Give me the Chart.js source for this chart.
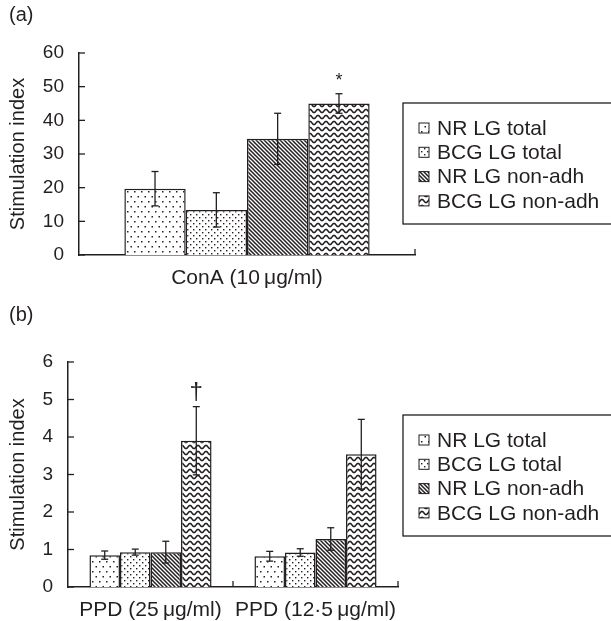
<!DOCTYPE html>
<html>
<head>
<meta charset="utf-8">
<script src="https://cdn.jsdelivr.net/npm/chart.js@4.4.1/dist/chart.umd.min.js"></script>
<style>
  html, body { margin: 0; padding: 0; background: #fff; }
  #wrap { position: relative; width: 611px; height: 621px; overflow: hidden; }
  .panel { position: absolute; left: 0; width: 611px; }
  #panelA { top: 0; height: 300px; }
  #panelB { top: 300px; height: 321px; }
</style>
</head>
<body>
<div id="wrap">
  <div class="panel" id="panelA"><canvas id="chartA"></canvas></div>
  <div class="panel" id="panelB"><canvas id="chartB"></canvas></div>
</div>
<script>
// series (same four groups in both panels)
const seriesLabels = ['NR LG total', 'BCG LG total', 'NR LG non-adh', 'BCG LG non-adh'];

// (a) ConA, one value per series
const conaLabels = ['ConA (10\u2009\u03bcg/ml)'];
const conaMeans = [19.7, 13.4, 34.5, 45.0];
const conaErrors = [5.1, 5.1, 7.6, 2.9];
const conaMarks = ['', '', '', '*'];
const conaTicks = [0, 10, 20, 30, 40, 50, 60];

// (b) PPD, two doses per series
const ppdLabels = ['PPD (25\u2009\u03bcg/ml)', 'PPD (12\u00b75\u2009\u03bcg/ml)'];
const ppdNrTotal = [0.85, 0.82];
const ppdBcgTotal = [0.93, 0.92];
const ppdNrNonAdh = [0.93, 1.28];
const ppdBcgNonAdh = [3.90, 3.54];
const ppdNrTotalErr = [0.11, 0.13];
const ppdBcgTotalErr = [0.08, 0.10];
const ppdNrNonAdhErr = [0.29, 0.30];
const ppdBcgNonAdhErr = [0.91, 0.93];
const ppdMarks = [['', ''], ['', ''], ['', ''], ['\u2020', '']];
const ppdTicks = [0, 1, 2, 3, 4, 5, 6];

const ink = '#231f20';
const fontFam = "'Liberation Sans', Arial, Helvetica, sans-serif";

// fill patterns for the four series
function makePattern(kind) {
    const c = document.createElement('canvas');
    const g = c.getContext('2d');
    if (kind === 0) { c.width = 7; c.height = 10; }
    else if (kind === 1) { c.width = 6; c.height = 6; }
    else if (kind === 2) { c.width = 4; c.height = 4; }
    else { c.width = 8; c.height = 6; }
    g.fillStyle = '#fff';
    g.fillRect(0, 0, c.width, c.height);
    g.fillStyle = ink;
    g.strokeStyle = ink;
    if (kind === 0) {
        g.fillRect(1, 1, 1.5, 1.5);
        g.fillRect(4.5, 6, 1.5, 1.5);
    } else if (kind === 1) {
        g.fillRect(1, 1, 1.4, 1.4);
        g.fillRect(4, 4, 1.4, 1.4);
    } else if (kind === 2) {
        g.lineWidth = 1.5;
        g.beginPath();
        g.moveTo(-1, -1); g.lineTo(5, 5);
        g.moveTo(-1, 3); g.lineTo(1, 5);
        g.moveTo(3, -1); g.lineTo(5, 1);
        g.stroke();
    } else {
        g.lineWidth = 1.5;
        g.beginPath();
        for (let x = -1; x <= 9; x += 0.25) {
            const y = 3 + 1.6 * Math.sin(x / 8 * 2 * Math.PI);
            if (x === -1) g.moveTo(x, y); else g.lineTo(x, y);
        }
        g.stroke();
    }
    return g.createPattern(c, 'repeat');
}
const patterns = [0, 1, 2, 3].map(makePattern);

function line(ctx, x1, y1, x2, y2) {
    ctx.beginPath();
    ctx.moveTo(x1, y1);
    ctx.lineTo(x2, y2);
    ctx.stroke();
}

// inner ticks, error bars, marks, framed legend and panel letter
const decorPlugin = {
    id: 'decor',
    afterDatasetsDraw(chart, args, opts) {
        const ctx = chart.ctx;
        const xs = chart.scales.x, ys = chart.scales.y;
        ctx.save();
        ctx.strokeStyle = ink;
        ctx.fillStyle = ink;
        ctx.lineWidth = 1.3;
        ys.ticks.forEach(t => {
            const py = ys.getPixelForValue(t.value);
            line(ctx, xs.left, py, xs.left + 6, py);
        });
        const n = chart.data.labels.length;
        for (let i = 1; i <= n; i++) {
            const px = xs.left + i * xs.width / n;
            line(ctx, px, ys.bottom, px, ys.bottom - 6);
        }
        chart.data.datasets.forEach((ds, di) => {
            const meta = chart.getDatasetMeta(di);
            meta.data.forEach((bar, i) => {
                const v = ds.data[i], e = ds.errors[i];
                const top = ys.getPixelForValue(v + e);
                const bot = ys.getPixelForValue(v - e);
                line(ctx, bar.x, top, bar.x, bot);
                line(ctx, bar.x - 3.5, top, bar.x + 3.5, top);
                line(ctx, bar.x - 3.5, bot, bar.x + 3.5, bot);
                const mark = ds.marks[i];
                if (mark) {
                    ctx.font = opts.markFont + ' ' + fontFam;
                    ctx.textAlign = 'center';
                    ctx.textBaseline = 'bottom';
                    ctx.fillText(mark, bar.x, top - opts.markGap);
                }
            });
        });
        // legend
        const lx = opts.legendX, ly = opts.legendY;
        ctx.lineWidth = 1.3;
        ctx.strokeRect(lx, ly, 300, 121);
        ctx.font = '21px ' + fontFam;
        ctx.textAlign = 'left';
        ctx.textBaseline = 'middle';
        chart.data.datasets.forEach((ds, di) => {
            const cy = ly + 25 + di * 24.3;
            ctx.fillStyle = ds.backgroundColor;
            ctx.fillRect(lx + 16, cy - 5, 10, 10);
            ctx.lineWidth = 1;
            ctx.strokeRect(lx + 16, cy - 5, 10, 10);
            ctx.fillStyle = ink;
            ctx.fillText(ds.label, lx + 34, cy + 1);
        });
        ctx.font = '20px ' + fontFam;
        ctx.fillText(opts.letter, 9, 15);
        ctx.restore();
    }
};

function buildChart(id, labels, datasets, ticks, pad, yWidth, xHeight, catPct, decor) {
    return new Chart(document.getElementById(id), {
        type: 'bar',
        data: { labels: labels, datasets: datasets },
        options: {
            responsive: true,
            maintainAspectRatio: false,
            animation: false,
            layout: { padding: pad },
            datasets: { bar: { categoryPercentage: catPct, barPercentage: 1 } },
            plugins: {
                legend: { display: false },
                tooltip: { enabled: false },
                decor: decor
            },
            scales: {
                x: {
                    grid: { display: false, drawTicks: false },
                    border: { color: ink, width: 1.5 },
                    ticks: {
                        color: ink, padding: 11, maxRotation: 0, autoSkip: false,
                        font: { family: fontFam, size: 21 }
                    },
                    afterFit: s => { s.height = xHeight; }
                },
                y: {
                    min: ticks[0],
                    max: ticks[ticks.length - 1],
                    grid: { display: false, drawTicks: false },
                    border: { color: ink, width: 1.5 },
                    ticks: {
                        color: ink, padding: 15, stepSize: ticks[1] - ticks[0],
                        font: { family: fontFam, size: 19 }
                    },
                    title: {
                        display: true, text: 'Stimulation index', color: ink,
                        padding: { top: 6, bottom: 0 },
                        font: { family: fontFam, size: 20 }
                    },
                    afterFit: s => { s.width = yWidth; }
                }
            }
        },
        plugins: [decorPlugin]
    });
}

const conaSets = seriesLabels.map((name, i) => ({
    label: name,
    data: [conaMeans[i]],
    errors: [conaErrors[i]],
    marks: [conaMarks[i]],
    backgroundColor: patterns[i],
    borderColor: ink,
    borderWidth: 1.5
}));

const ppdMeans = [ppdNrTotal, ppdBcgTotal, ppdNrNonAdh, ppdBcgNonAdh];
const ppdErrors = [ppdNrTotalErr, ppdBcgTotalErr, ppdNrNonAdhErr, ppdBcgNonAdhErr];
const ppdSets = seriesLabels.map((name, i) => ({
    label: name,
    data: ppdMeans[i],
    errors: ppdErrors[i],
    marks: ppdMarks[i],
    backgroundColor: patterns[i],
    borderColor: ink,
    borderWidth: 1.5
}));

buildChart('chartA', conaLabels, conaSets, conaTicks,
    { top: 53, right: 196, bottom: 0, left: 0 }, 79, 45, 0.73,
    { legendX: 403, legendY: 103, letter: '(a)', markFont: '18px', markGap: 4 });

buildChart('chartB', ppdLabels, ppdSets, ppdTicks,
    { top: 62, right: 213, bottom: 0, left: 0 }, 68, 34, 0.74,
    { legendX: 403, legendY: 115, letter: '(b)', markFont: '24px', markGap: 2 });
</script>
</body>
</html>
